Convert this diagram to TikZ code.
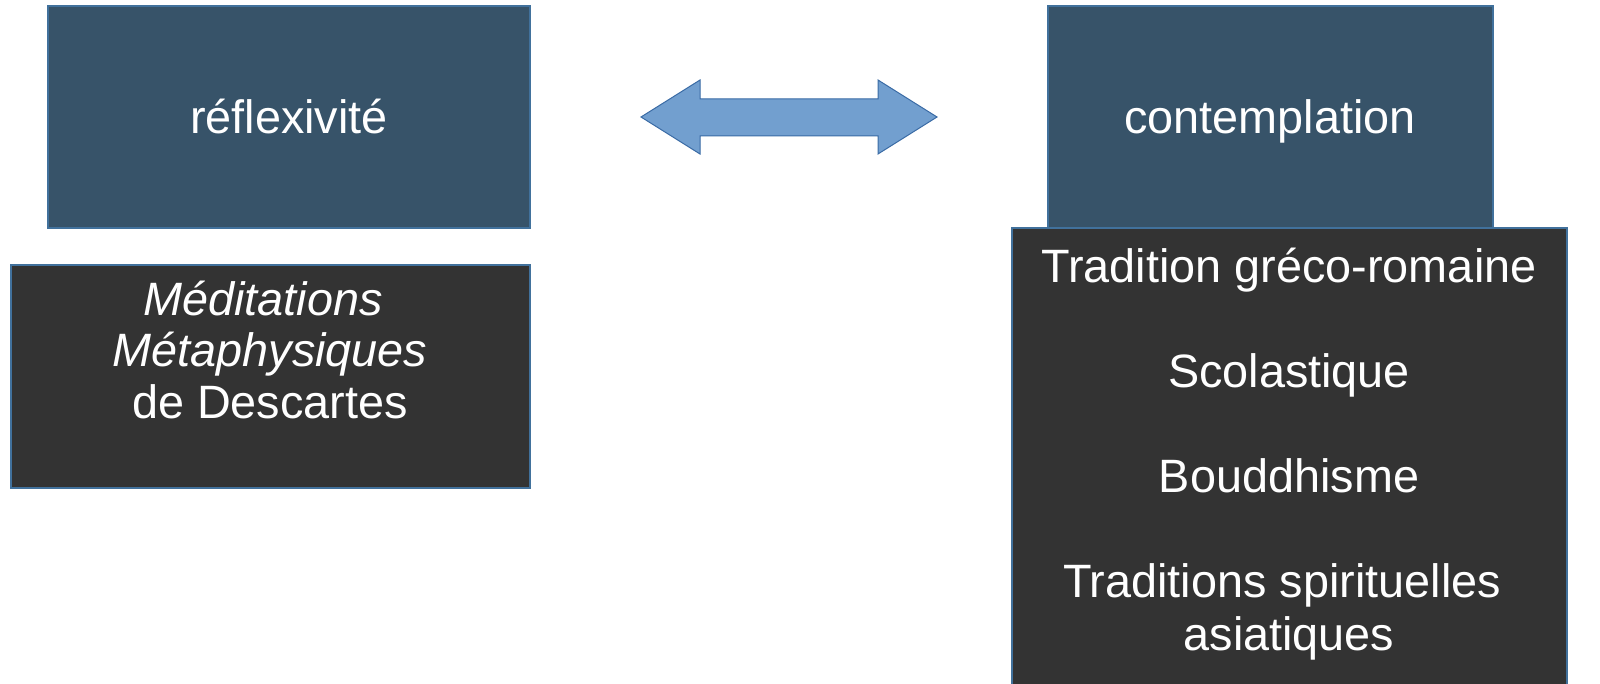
\documentclass[tikz,border=0pt]{standalone}
\usepackage{fontspec}
\setmainfont{Liberation Sans}
\definecolor{boxblue}{HTML}{375369}
\definecolor{boxdark}{HTML}{333333}
\definecolor{edgeblue}{HTML}{41719C}
\definecolor{arrfill}{HTML}{729FCF}
\definecolor{arredge}{HTML}{3A6BA5}
\begin{document}
\begin{tikzpicture}[x=0.5pt,y=-0.5pt,
  bluebox/.style={draw=edgeblue,line width=0.6pt,fill=boxblue},
  darkbox/.style={draw=edgeblue,line width=0.6pt,fill=boxdark},
  lbl/.style={text=white,font=\fontsize{23.4}{26}\selectfont,anchor=base,inner sep=0pt}]
\useasboundingbox (0,0) rectangle (1600,684);
\clip (0,0) rectangle (1600,684);
% boxes
\draw[bluebox] (48,6) rectangle (530,228);
\draw[darkbox] (11,265) rectangle (530,488);
\draw[bluebox] (1048,6) rectangle (1493,228);
\draw[darkbox] (1012,228) rectangle (1567,700);
% double arrow
\draw[fill=arrfill,draw=arredge,line width=0.5pt,line join=miter]
  (641,117) -- (700,80) -- (700,99) -- (878,99) -- (878,80) -- (937,117)
  -- (878,154) -- (878,136) -- (700,136) -- (700,154) -- cycle;
% texts
\node[lbl] (refl) at (289,134) {réflexivité};
\node[lbl] (cont) at (1270,134) {contemplation};
\node[lbl] (med1) at (263,315) {\itshape Méditations};
\node[lbl] (med2) at (270,366) {\itshape Métaphysiques};
\node[lbl] (med3) at (270,418) {de Descartes};
\node[lbl] (t1) at (1289,283) {Tradition gréco-romaine};
\node[lbl] (t2) at (1289,387) {Scolastique};
\node[lbl] (t3) at (1289,492) {Bouddhisme};
\node[lbl] (t4) at (1282,597) {Traditions spirituelles};
\node[lbl] (t5) at (1289,650) {asiatiques};
\end{tikzpicture}
\end{document}
